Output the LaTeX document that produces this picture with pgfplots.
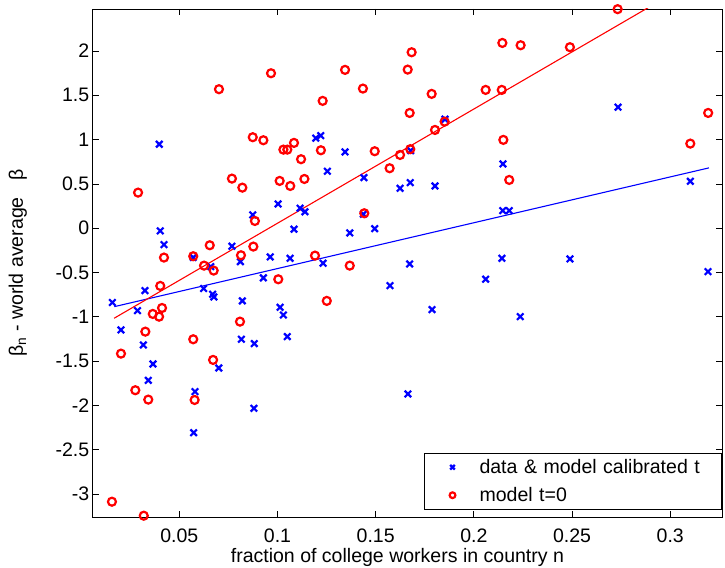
\documentclass[border=0pt]{standalone}
\usepackage{pgfplots}
\pgfplotsset{compat=1.18}
\usepackage{fontspec}
\setmainfont{Liberation Sans}
\usetikzlibrary{calc}
\newcommand{\ff}{\fontsize{19.6}{22}\selectfont}
\pgfplotsset{myleg/.style={legend image code/.code={%
  \path[draw=none,fill=none] (-28bp,-14bp) (27bp,14bp);
  \draw[##1, mark options={scale=0.72}] plot coordinates {(0bp,0bp)};}}}
\begin{document}
\begin{tikzpicture}
\begin{axis}[
  name=ax,
  scale only axis,
  width=629.6bp, height=508.3bp,
  xmin=0.0059, xmax=0.3265,
  ymin=-3.262, ymax=2.474,
  xtick={0.05,0.1,0.15,0.2,0.25,0.3},
  xticklabels={0.05,0.1,0.15,0.2,0.25,0.3},
  ytick={-3,-2.5,-2,-1.5,-1,-0.5,0,0.5,1,1.5,2},
  yticklabels={-3,-2.5,-2,-1.5,-1,-0.5,0,0.5,1,1.5,2},
  tick align=inside,
  major tick length=6bp,
  tick style={line width=0.8bp, black},
  axis line style={line width=0.9bp, black},
  tick label style={font=\ff},
  xticklabel style={anchor=base, yshift=-25.4bp},
  xlabel={fraction of college workers in country n},
  ylabel={β\textsubscript{n} - world average\ \ \ β},
  every axis x label/.style={at={(rel axis cs:0.484,0)}, anchor=base, yshift=-44.7bp, font=\ff},
  every axis y label/.style={at={(rel axis cs:-0.1107,0.5)}, rotate=90, anchor=base, font=\ff},
  legend cell align=left,
  legend style={at={(rel axis cs:0.999,0.015)}, anchor=south east, draw=black, line width=0.9bp, font=\ff, inner sep=0pt, column sep=0pt, row sep=0pt, nodes={inner sep=0pt, text width=241.7bp, align=left}},
  clip=true,
]
\addplot[only marks, myleg, mark=x, blue, mark size=4.6bp, line width=2.2bp, mark options={line width=2.2bp}] coordinates {
(0.0159,-0.838) (0.0325,-0.704) (0.0287,-0.93) (0.0203,-1.148) (0.0317,-1.317)
(0.0366,-1.532) (0.0342,-1.716) (0.0398,0.948) (0.0403,-0.03) (0.0422,-0.185)
(0.0571,-0.33) (0.058,-1.844) (0.0573,-2.307) (0.0624,-0.68) (0.0670,-0.745)
(0.0676,-0.775) (0.066,-0.433) (0.0701,-1.577) (0.0768,-0.203) (0.0811,-0.377)
(0.0821,-0.82) (0.0816,-1.253) (0.0874,0.15) (0.0882,-1.302) (0.088,-2.032)
(0.0928,-0.56) (0.0963,-0.324) (0.1003,0.274) (0.1013,-0.892) (0.103,-0.979)
(0.105,-1.223) (0.1064,-0.339) (0.1084,-0.011) (0.1115,0.226) (0.114,0.186)
(0.1195,1.016) (0.122,1.045) (0.1232,-0.395) (0.1254,0.643) (0.1344,0.861)
(0.1368,-0.053) (0.144,0.571) (0.1437,0.158) (0.1495,-0.005) (0.1573,-0.648)
(0.1624,0.451) (0.1676,0.515) (0.1678,0.876) (0.1673,-0.403) (0.1664,-1.87)
(0.1787,-0.918) (0.1802,0.477) (0.1853,1.23) (0.206,-0.575) (0.2143,-0.339)
(0.2147,0.199) (0.218,0.199) (0.2148,0.726) (0.2236,-0.998) (0.2489,-0.346)
(0.2734,1.366) (0.3102,0.53) (0.3192,-0.49)
};
\addlegendentry{data \& model calibrated t}
\addplot[only marks, myleg, mark=o, red, mark size=4bp, line width=2.2bp, mark options={line width=2.2bp}] coordinates {
(0.0157,-3.086) (0.0319,-3.244) (0.0203,-1.415) (0.0276,-1.828) (0.0342,-1.934)
(0.0327,-1.167) (0.0365,-0.967) (0.0397,-0.998) (0.0412,-0.9) (0.0403,-0.651)
(0.0422,-0.331) (0.029,0.402) (0.0571,-0.316) (0.0571,-1.253) (0.0578,-1.938)
(0.0626,-0.422) (0.0655,-0.192) (0.0675,-0.478) (0.0672,-1.486) (0.0702,1.569)
(0.0768,0.56) (0.0809,-1.054) (0.0814,-0.305) (0.0821,0.458) (0.0874,1.027)
(0.0877,-0.207) (0.0885,0.082) (0.0928,0.993) (0.0967,1.749) (0.1004,-0.576)
(0.1011,0.534) (0.103,0.887) (0.105,0.887) (0.1065,0.477) (0.1084,0.963)
(0.112,0.779) (0.1137,0.556) (0.1191,-0.309) (0.1221,0.88) (0.123,1.437)
(0.1251,-0.82) (0.1344,1.787) (0.1368,-0.422) (0.1435,1.576) (0.1442,0.169)
(0.1495,0.869) (0.1571,0.677) (0.1624,0.827) (0.1663,1.79) (0.1673,1.301)
(0.1676,0.892) (0.1683,1.986) (0.1785,1.516) (0.1802,1.109) (0.1851,1.203)
(0.206,1.561) (0.2142,1.561) (0.2145,2.091) (0.215,0.997) (0.218,0.545)
(0.2238,2.065) (0.2489,2.043) (0.2732,2.472) (0.3102,0.955) (0.3193,1.301)
};
\addlegendentry{model t=0}
\addplot[blue, line width=1.1bp, forget plot] coordinates {(0.0169,-0.885) (0.3197,0.681)};
\addplot[red, line width=1.1bp, forget plot] coordinates {(0.0168,-1.016) (0.3193,2.883)};
\end{axis}
\pgfresetboundingbox
\path[use as bounding box] ($(ax.south west)+(-92.7bp,-50.7bp)$) rectangle ($(ax.north east)+(2.7bp,9bp)$);
\end{tikzpicture}
\end{document}
